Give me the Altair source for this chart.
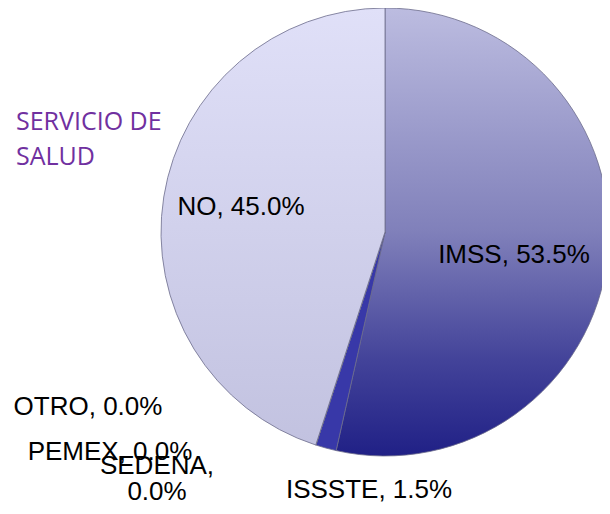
import altair as alt
import pandas as pd

# ---- data ----
categories = ["IMSS", "ISSSTE", "SEDENA", "PEMEX", "OTRO", "NO"]
values = [53.5, 1.5, 0.0, 0.0, 0.0, 45.0]
title_lines = ["SERVICIO DE", "SALUD"]

# ---- layout (chart coordinates, page offset 8px) ----
CX, CY, R = 377, 224, 224
label_pos = {
    "IMSS": (506, 255),
    "ISSSTE": (361, 490),
    "SEDENA": (149, 466),
    "PEMEX": (102, 452),
    "OTRO": (80, 407),
    "NO": (233, 207),
}

df = pd.DataFrame({"cat": categories, "val": values, "order": list(range(len(categories)))})
df["label"] = [
    (f"{c},\n{v:.1f}%" if c == "SEDENA" else f"{c}, {v:.1f}%") for c, v in zip(categories, values)
]
df["lx"] = [label_pos[c][0] for c in categories]
df["ly"] = [label_pos[c][1] for c in categories]

g_imss = {
    "gradient": "linear", "x1": 0, "y1": 0, "x2": 0, "y2": 1,
    "stops": [
        {"offset": 0, "color": "#bcbce0"},
        {"offset": 0.5, "color": "#8080ba"},
        {"offset": 0.78, "color": "#44449a"},
        {"offset": 1, "color": "#202086"},
    ],
}
g_no = {
    "gradient": "linear", "x1": 0, "y1": 0, "x2": 0, "y2": 1,
    "stops": [
        {"offset": 0, "color": "#e0e0f8"},
        {"offset": 1, "color": "#c2c2e0"},
    ],
}

base = alt.Chart(df)

shadow = alt.Chart(pd.DataFrame({"k": [0]})).mark_circle(
    size=3.14159 * (R + 3) ** 2, color="#c8c8d2", opacity=0.45
).encode(x=alt.value(CX + 1), y=alt.value(CY + 3))

pie = base.mark_arc(outerRadius=R, stroke="#6c6c8c", strokeWidth=0.8).encode(
    theta=alt.Theta("val:Q", stack=True),
    order=alt.Order("order:Q"),
    fill=alt.when(alt.datum.cat == "IMSS").then(alt.value(g_imss))
        .when(alt.datum.cat == "NO").then(alt.value(g_no))
        .otherwise(alt.value("#3838a8")),
    x=alt.value(CX),
    y=alt.value(CY),
)

labels = base.mark_text(
    font="Liberation Sans", fontSize=26, color="#000000", align="center",
    baseline="alphabetic", lineBreak="\n", lineHeight=26,
).encode(
    x=alt.X("lx:Q", scale=None),
    y=alt.Y("ly:Q", scale=None),
    text="label:N",
)

title = alt.Chart(pd.DataFrame({"t": ["\n".join(title_lines)]})).mark_text(
    font="Open Sans", fontSize=25, color="#7030a0", align="left",
    baseline="alphabetic", lineBreak="\n", lineHeight=35,
).encode(x=alt.value(8), y=alt.value(122), text="t:N")

chart = alt.layer(shadow, pie, labels, title).properties(
    width=594, height=498, padding=0,
    autosize=alt.AutoSizeParams(type="none"),
).configure_view(stroke=None)

chart.save("out.html", embed_options={"renderer": "svg", "actions": False})
